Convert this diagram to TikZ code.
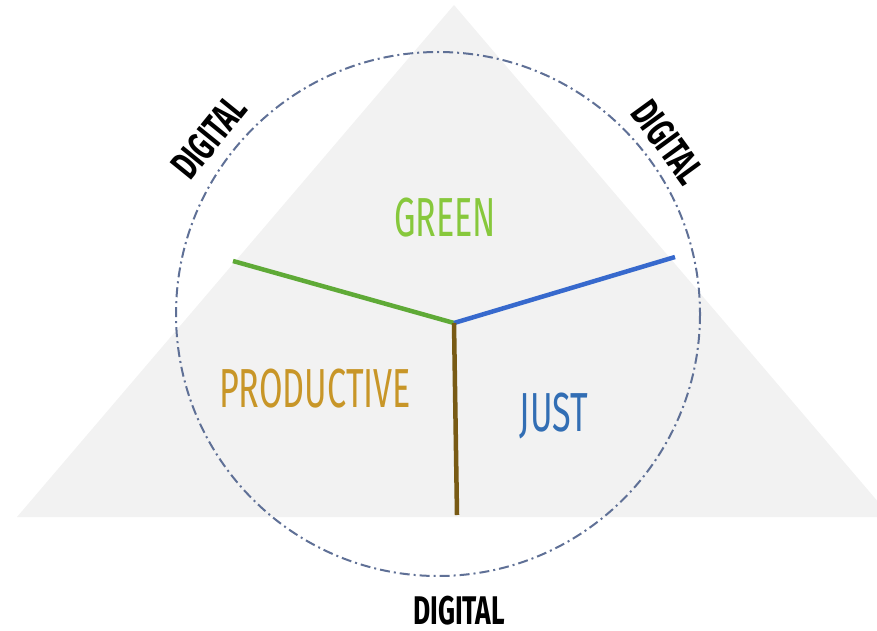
\documentclass[tikz,border=0pt]{standalone}
\usepackage{fontspec}
\setmainfont{Fira Sans}
\newfontfamily\condfont{Fira Sans}[FakeStretch=0.62]
\newfontfamily\condbold{Fira Sans}[FakeStretch=0.66,UprightFont=* Bold]
\usetikzlibrary{positioning}

\definecolor{trigray}{RGB}{242,242,242}
\definecolor{ringblue}{RGB}{95,112,150}
\definecolor{greentext}{RGB}{135,200,60}
\definecolor{greenline}{RGB}{95,170,55}
\definecolor{bluetext}{RGB}{50,110,180}
\definecolor{blueline}{RGB}{55,105,205}
\definecolor{goldtext}{RGB}{200,150,40}
\definecolor{brownline}{RGB}{120,90,20}

\begin{document}
\begin{tikzpicture}[x=1pt,y=-1pt]
	\useasboundingbox (0,0) rectangle (877,631);
	\clip (0,0) rectangle (877,631);
	% background triangle
	\fill[trigray] (17,517) -- (454,5) -- (891,517) -- cycle;
	\draw[ringblue,line width=2pt,dash pattern=on 10pt off 4pt on 2pt off 4pt] (438,314) circle[radius=262];

	\begin{scope}[every node/.style={inner sep=0pt}]
		\node[font=\condfont\fontsize{55}{60}\selectfont,text=greentext] (green) at (445,218) {GREEN};
		\node[font=\condfont\fontsize{55}{60}\selectfont,text=goldtext] (productive) at (315,389) {PRODUCTIVE};
		\node[font=\condfont\fontsize{55}{60}\selectfont,text=bluetext] (just) at (554,416) {JUST};
		\node[font=\condbold\fontsize{40}{44}\selectfont] (digitalB) at (459,611) {DIGITAL};
		\node[font=\condbold\fontsize{40}{44}\selectfont,rotate=51] (digitalL) at (209,137) {DIGITAL};
		\node[font=\condbold\fontsize{40}{44}\selectfont,rotate=-54] (digitalR) at (668,142) {DIGITAL};
	\end{scope}

	\begin{scope}[line width=4.5pt]
		\coordinate (hub) at (454,323);
		\coordinate (gEnd) at (233,261);
		\coordinate (bEnd) at (675,257);
		\coordinate (pEnd) at (457,515);
		\draw[greenline] (hub) -- (gEnd);
		\draw[blueline] (hub) -- (bEnd);
		\draw[brownline] (hub) -- (pEnd);
	\end{scope}
\end{tikzpicture}
\end{document}
